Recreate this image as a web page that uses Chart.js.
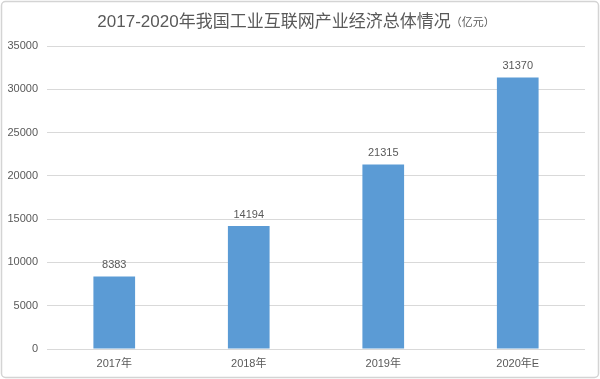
<!DOCTYPE html>
<html><head><meta charset="utf-8">
<script src="https://cdn.jsdelivr.net/npm/chart.js@4/dist/chart.umd.min.js"></script>
<style>html,body{margin:0;padding:0;background:#fff;}#wrap{width:600px;height:379px;position:relative;}</style>
</head><body><div id="wrap"><canvas id="c" width="600" height="379"></canvas></div>
<script>
const categories = ['2017年', '2018年', '2019年', '2020年E'];
const values = [8383, 14194, 21315, 31370];
const yTicks = [0, 5000, 10000, 15000, 20000, 25000, 30000, 35000];
const titleMain = '2017-2020年我国工业互联网产业经济总体情况';
const titleUnit = '（亿元）';

const FONT = "'Liberation Sans', 'Noto Sans CJK SC', sans-serif";
const TXT = '#595959';

const deco = {
  id: 'deco',
  beforeDraw(chart) {
    const ctx = chart.ctx;
    ctx.save();
    ctx.fillStyle = '#fff';
    ctx.fillRect(0, 0, chart.width, chart.height);
    ctx.restore();
  },
  afterDraw(chart) {
    const ctx = chart.ctx;
    ctx.save();
    ctx.strokeStyle = '#d4d4d4';
    ctx.lineWidth = 1.5;
    ctx.beginPath();
    if (ctx.roundRect) ctx.roundRect(1.5, 1.5, chart.width - 3, chart.height - 3, 4);
    else ctx.rect(1.5, 1.5, chart.width - 3, chart.height - 3);
    ctx.stroke();
    ctx.fillStyle = TXT;
    ctx.textBaseline = 'middle';
    ctx.font = '17px ' + FONT;
    const w1 = ctx.measureText(titleMain).width;
    ctx.font = '11px ' + FONT;
    const w2 = ctx.measureText(titleUnit).width;
    const x0 = 296 - (w1 + w2) / 2;
    ctx.textAlign = 'left';
    ctx.font = '17px ' + FONT;
    ctx.fillText(titleMain, x0, 22);
    ctx.font = '11px ' + FONT;
    ctx.fillText(titleUnit, x0 + w1, 23);
    const meta = chart.getDatasetMeta(0);
    ctx.font = '11px ' + FONT;
    ctx.textAlign = 'center';
    ctx.textBaseline = 'bottom';
    meta.data.forEach((bar, i) => {
      ctx.fillText(String(chart.data.datasets[0].data[i]), bar.x, bar.y - 6);
    });
    ctx.restore();
  }
};

new Chart(document.getElementById('c'), {
  type: 'bar',
  data: {
    labels: categories,
    datasets: [{
      data: values,
      backgroundColor: '#5b9bd5',
      categoryPercentage: 1,
      barPercentage: 0.31
    }]
  },
  options: {
    responsive: false,
    animation: false,
    devicePixelRatio: 1,
    layout: { padding: { top: 46, right: 15, bottom: 0, left: 0 } },
    plugins: { legend: { display: false }, tooltip: { enabled: false }, title: { display: false } },
    scales: {
      x: {
        grid: { display: false, drawTicks: false },
        border: { display: false },
        ticks: { color: TXT, font: { family: FONT, size: 11 }, padding: 8 },
        afterFit(s) { s.height = 30; }
      },
      y: {
        min: 0, max: 35000,
        afterBuildTicks(s) { s.ticks = yTicks.map(v => ({ value: v })); },
        grid: { color: '#d9d9d9', lineWidth: 1, drawTicks: false },
        border: { display: false },
        ticks: { color: TXT, font: { family: FONT, size: 11 }, padding: 9, callback: v => String(v) },
        afterFit(s) { s.width = 47; }
      }
    }
  },
  plugins: [deco]
});
</script></body></html>
